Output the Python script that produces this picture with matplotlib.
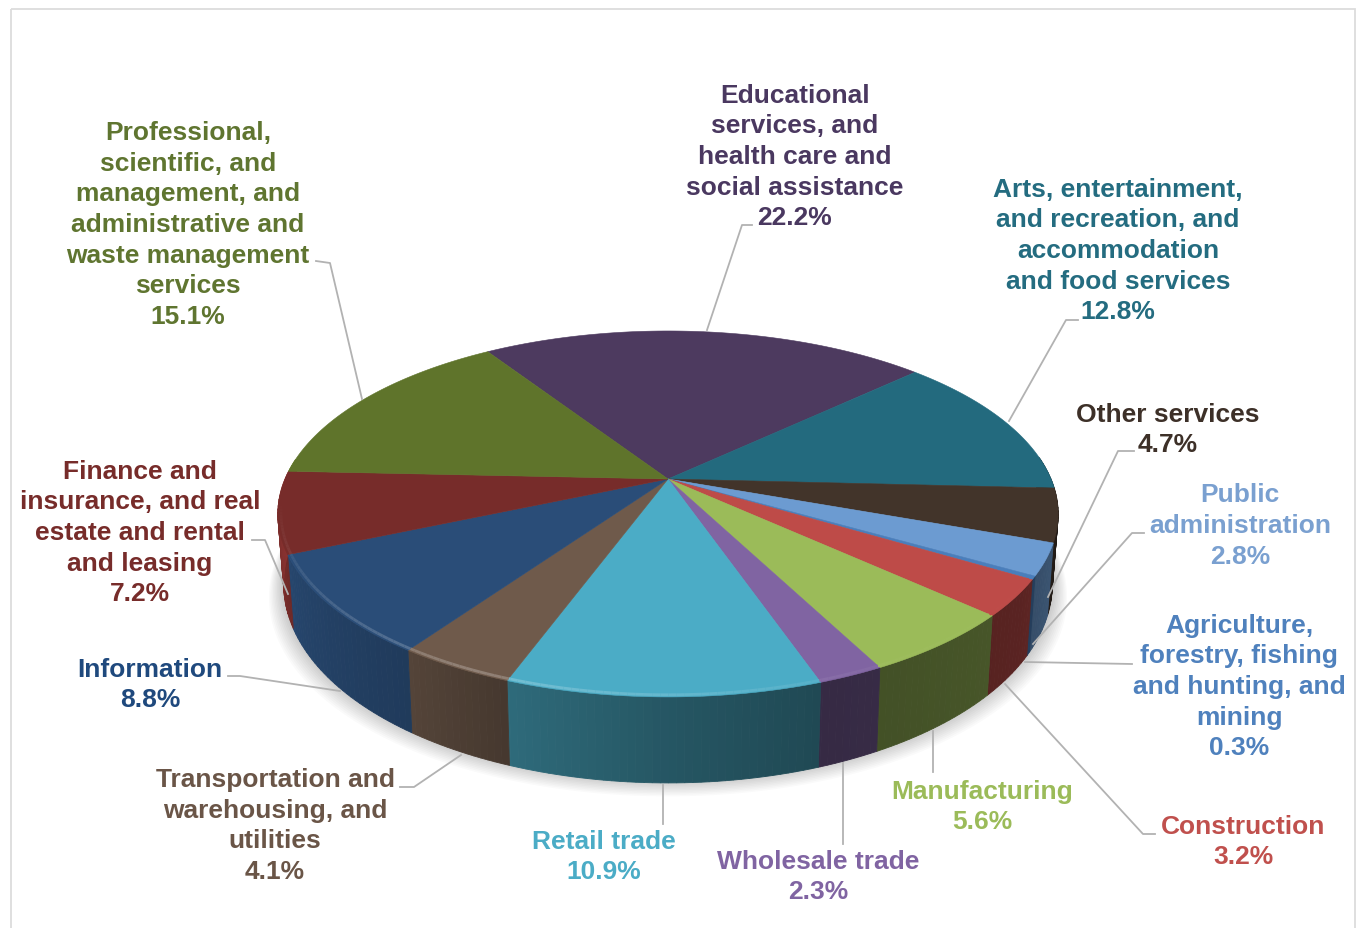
import numpy as np
import matplotlib
matplotlib.use('Agg')
import matplotlib.pyplot as plt
from matplotlib.colors import to_rgb
from matplotlib.patches import Polygon, Rectangle

plt.rcParams['font.family'] = ['Liberation Sans', 'DejaVu Sans']

# clockwise order, starting from Educational
labels = ['Educational\nservices, and\nhealth care and\nsocial assistance\n22.2%',
          'Arts, entertainment,\nand recreation, and\naccommodation\nand food services\n12.8%',
          'Other services\n4.7%',
          'Public\nadministration\n2.8%',
          'Agriculture,\nforestry, fishing\nand hunting, and\nmining\n0.3%',
          'Construction\n3.2%',
          'Manufacturing\n5.6%',
          'Wholesale trade\n2.3%',
          'Retail trade\n10.9%',
          'Transportation and\nwarehousing, and\nutilities\n4.1%',
          'Information\n8.8%',
          'Finance and\ninsurance, and real\nestate and rental\nand leasing\n7.2%',
          'Professional,\nscientific, and\nmanagement, and\nadministrative and\nwaste management\nservices\n15.1%']
values = [22.2, 12.8, 4.7, 2.8, 0.3, 3.2, 5.6, 2.3, 10.9, 4.1, 8.8, 7.2, 15.1]
top_colors = ['#4d3a5f', '#236a7e', '#42342a', '#6c9bd1', '#4a7ebb', '#be4b48', '#9bbb59',
              '#8064a2', '#4bacc6', '#6f5a4b', '#2a4d78', '#772c2a', '#5f742b']
text_colors = ['#4a3860', '#246c80', '#3d3028', '#7aa0d0', '#4f81bd', '#c0504d', '#9bbb59',
               '#8064a2', '#4bacc6', '#6a5547', '#1f497d', '#772c2a', '#5f7530']

# label centres and leader lines in picture pixels
label_x = [795, 1118, 1168, 1240, 1239, 1243, 982, 818, 604, 275, 150, 140, 188]
label_y = [157, 251, 430, 526, 687, 842, 807, 877, 857, 826, 685, 533, 225]
leaders = [[(707, 331), (742, 226), (752, 226)],
           [(1009, 422), (1066, 321), (1078, 321)],
           [(1048, 598), (1118, 452), (1134, 452)],
           [(1033, 645), (1132, 534), (1144, 534)],
           [(1025, 663), (1132, 665)],
           [(1005, 685), (1143, 835), (1155, 835)],
           [(933, 732), (933, 773)],
           [(843, 764), (843, 845)],
           [(663, 786), (663, 825)],
           [(461, 756), (414, 788), (400, 788)],
           [(340, 692), (240, 677), (228, 677)],
           [(288, 595), (265, 541), (252, 541)],
           [(362, 400), (330, 264), (316, 262)]]

start_angle = -33.1   # degrees clockwise from the back of the pie
cx, cy = 668, 480
persp = 0.191


def top_xy(theta, r=1.0):
    # perspective view of the pie's upper face
    t = np.radians(theta)
    u = r * np.sin(t)
    v = -r * np.cos(t)
    d = 1 - persp * v
    return cx + 383 * u / d, cy + 176.3 * v / d


def bottom_xy(theta):
    x, y = top_xy(theta)
    v = -np.cos(np.radians(theta))
    return cx + (x - cx) * 0.985, y + 66 + 20 * v


def shade(theta):
    # wall brightness round the front of the pie
    return np.interp(theta, [90, 110, 125, 160, 180, 200, 215, 245, 275],
                     [0.35, 0.55, 0.47, 0.42, 0.5, 0.62, 0.76, 0.9, 1.25])


fig = plt.figure(figsize=(13.56, 9.29), dpi=100)
ax = fig.add_axes([0, 0, 1, 1])
ax.set_xlim(0, 1356)
ax.set_ylim(929, 0)
ax.axis('off')

ax.add_patch(Rectangle((11, 10), 1344, 940, fill=False, edgecolor='#dcdcdc', lw=1.3))

edges = start_angle + np.concatenate([[0], np.cumsum(values)]) * 3.6

# soft shadow under the pie
circle = np.arange(0, 361, 2.0)
bx, by = bottom_xy(circle)
for i in range(12):
    grow = 1 + i * 0.0035
    ax.add_patch(Polygon(np.column_stack([cx + (bx - cx) * grow, by + i * 1.5 - 3]),
                         closed=True, facecolor='black', alpha=0.018, lw=0, zorder=1))

# side walls, one narrow strip at a time so the shading runs round the front
for i in range(len(values)):
    base = np.array(to_rgb(top_colors[i]))
    steps = np.arange(edges[i], edges[i + 1], 1.0)
    steps = np.append(steps, edges[i + 1])
    for a, b in zip(steps[:-1], steps[1:]):
        mid = (a + b) / 2
        if np.cos(np.radians(mid)) > 0.12:
            continue
        xa, ya = top_xy(a)
        xb, yb = top_xy(b)
        xc, yc = bottom_xy(b)
        xd, yd = bottom_xy(a)
        col = np.clip(base * shade(mid % 360), 0, 1)
        ax.add_patch(Polygon([(xa, ya), (xb, yb), (xc, yc), (xd, yd)], closed=True,
                             facecolor=col, edgecolor=col, lw=0.6, zorder=2))

# upper face of each slice
for i in range(len(values)):
    arc = np.linspace(edges[i], edges[i + 1], 80)
    ax_, ay_ = top_xy(arc)
    pts = np.column_stack([np.r_[cx, ax_], np.r_[cy, ay_]])
    ax.add_patch(Polygon(pts, closed=True, facecolor=top_colors[i], edgecolor=top_colors[i],
                         lw=0.4, zorder=3))

# bevel along the front rim
for i in range(len(values)):
    base = np.array(to_rgb(top_colors[i]))
    steps = np.append(np.arange(edges[i], edges[i + 1], 1.0), edges[i + 1])
    for a, b in zip(steps[:-1], steps[1:]):
        mid = ((a + b) / 2) % 360
        if not 120 < mid < 262:
            continue
        glow = np.interp(mid, [120, 150, 185, 205, 240, 262], [0.0, 0.02, 0.16, 0.24, 0.1, 0.0])
        xs, ys = top_xy(np.array([a, b]), 0.992)
        ax.plot(xs, ys, color=np.clip(base + glow * (1 - base), 0, 1),
                lw=2.0, solid_capstyle='butt', zorder=4)

for pts in leaders:
    xs, ys = zip(*pts)
    ax.plot(xs, ys, color='#b2b2b2', lw=1.3, zorder=5)

for i in range(len(labels)):
    ax.text(label_x[i], label_y[i], labels[i], color=text_colors[i], fontsize=19,
            fontweight='bold', ha='center', va='center', linespacing=1.346, zorder=6)

fig.savefig('out.png', dpi=100)
